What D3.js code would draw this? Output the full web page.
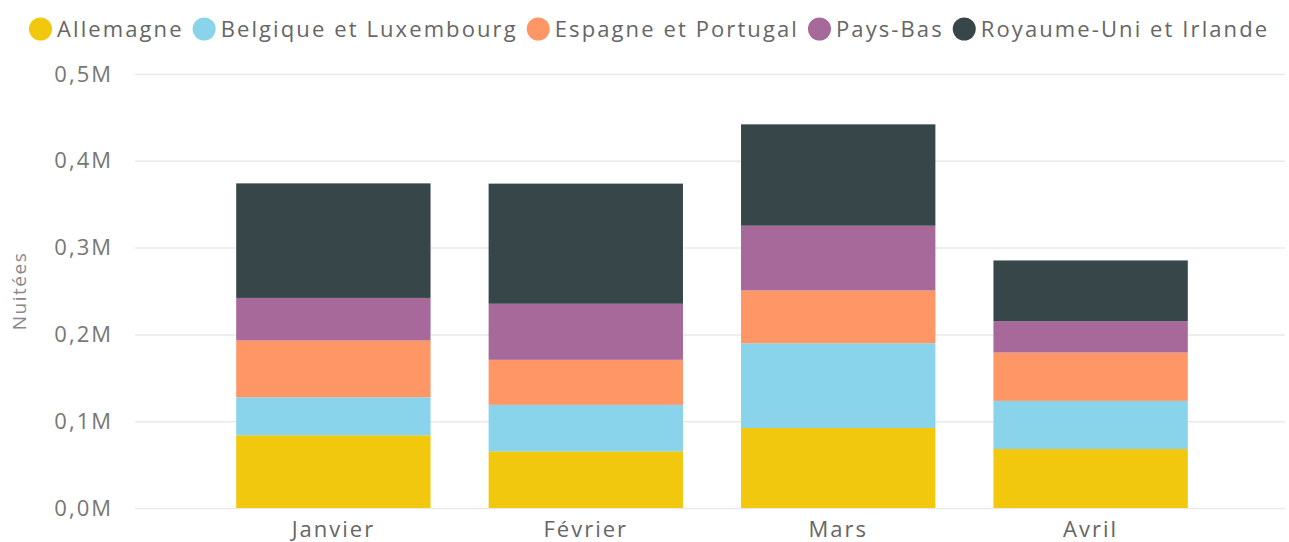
<!DOCTYPE html>
<html>
<head>
<meta charset="utf-8">
<script src="https://cdn.jsdelivr.net/npm/d3@7"></script>
<style>
  body { margin: 0; background: #fff; }
  text { font-family: "Open Sans", "DejaVu Sans", sans-serif; }
</style>
</head>
<body>
<div id="chart"></div>
<script>
// Data (nuitées, millions)
const months = ["Janvier", "Février", "Mars", "Avril"];
const countries = ["Allemagne", "Belgique et Luxembourg", "Espagne et Portugal", "Pays-Bas", "Royaume-Uni et Irlande"];
const allemagne = [0.0838, 0.0653, 0.0922, 0.0680];
const belgique  = [0.0438, 0.0535, 0.0976, 0.0554];
const espagne   = [0.0654, 0.0519, 0.0608, 0.0557];
const paysBas   = [0.0490, 0.0646, 0.0746, 0.0361];
const royaume   = [0.1320, 0.1384, 0.1168, 0.0700];
const yTicks = [0, 0.1, 0.2, 0.3, 0.4, 0.5];
const colors = ["#F2C80F", "#8AD4EB", "#FE9666", "#A66999", "#374649"];

const series = [allemagne, belgique, espagne, paysBas, royaume];
const rows = months.map((m, i) => {
    const r = { month: m };
    countries.forEach((c, j) => r[c] = series[j][i]);
    return r;
});

const width = 1289, height = 542;
const margin = { top: 74, right: 4, bottom: 34, left: 135 };

const svg = d3.select("#chart").append("svg")
    .attr("width", width)
    .attr("height", height);

const x = d3.scaleBand()
    .domain(months)
    .range([margin.left + 2, width - margin.right + 2])
    .paddingInner(0.23)
    .paddingOuter(0.393);

const y = d3.scaleLinear()
    .domain([0, 0.5])
    .range([height - margin.bottom, margin.top]);

const color = d3.scaleOrdinal().domain(countries).range(colors);

// Gridlines + tick labels
const yAxis = svg.append("g")
    .attr("transform", `translate(${margin.left},0)`)
    .call(d3.axisLeft(y)
        .tickValues(yTicks)
        .tickSize(-(width - margin.left - margin.right))
        .tickPadding(22)
        .tickFormat(d => d3.format(".1f")(d).replace(".", ",") + "M"));
yAxis.select(".domain").remove();
yAxis.selectAll(".tick line").attr("stroke", "#e9e9e9").attr("stroke-width", 1.5);
yAxis.selectAll(".tick text")
    .attr("fill", "#777")
    .style("font-size", "22px")
    .style("letter-spacing", "2px");

// Y title
svg.append("text")
    .attr("transform", `translate(26, 291) rotate(-90)`)
    .attr("text-anchor", "middle")
    .attr("fill", "#888")
    .style("font-size", "19px")
    .style("letter-spacing", "1.5px")
    .text("Nuitées");

// Stacked bars
const stacked = d3.stack().keys(countries)(rows);
svg.append("g").selectAll("g")
    .data(stacked)
    .join("g")
    .attr("fill", d => color(d.key))
    .selectAll("rect")
    .data(d => d)
    .join("rect")
    .attr("x", d => x(d.data.month))
    .attr("y", d => y(d[1]))
    .attr("width", x.bandwidth())
    .attr("height", d => y(d[0]) - y(d[1]));

// X axis labels
const xAxis = svg.append("g")
    .attr("transform", `translate(0,${height - margin.bottom})`)
    .call(d3.axisBottom(x).tickSize(0).tickPadding(13));
xAxis.select(".domain").remove();
xAxis.selectAll(".tick text")
    .attr("fill", "#666")
    .style("font-size", "22px")
    .style("letter-spacing", "2px");

// Legend
const legend = svg.append("g").attr("transform", "translate(0,29)");
let lx = 29;
countries.forEach((c, i) => {
    const item = legend.append("g").attr("transform", `translate(${lx},0)`);
    item.append("circle")
        .attr("cx", 11.5)
        .attr("cy", 0)
        .attr("r", 11.5)
        .attr("fill", colors[i]);
    const t = item.append("text")
        .attr("x", 28)
        .attr("y", 0)
        .attr("dy", "0.35em")
        .attr("fill", "#666")
        .style("font-size", "22px")
        .style("letter-spacing", "2.1px")
        .text(c);
    lx += 28 + t.node().getComputedTextLength() + 9;
});
</script>
</body>
</html>
